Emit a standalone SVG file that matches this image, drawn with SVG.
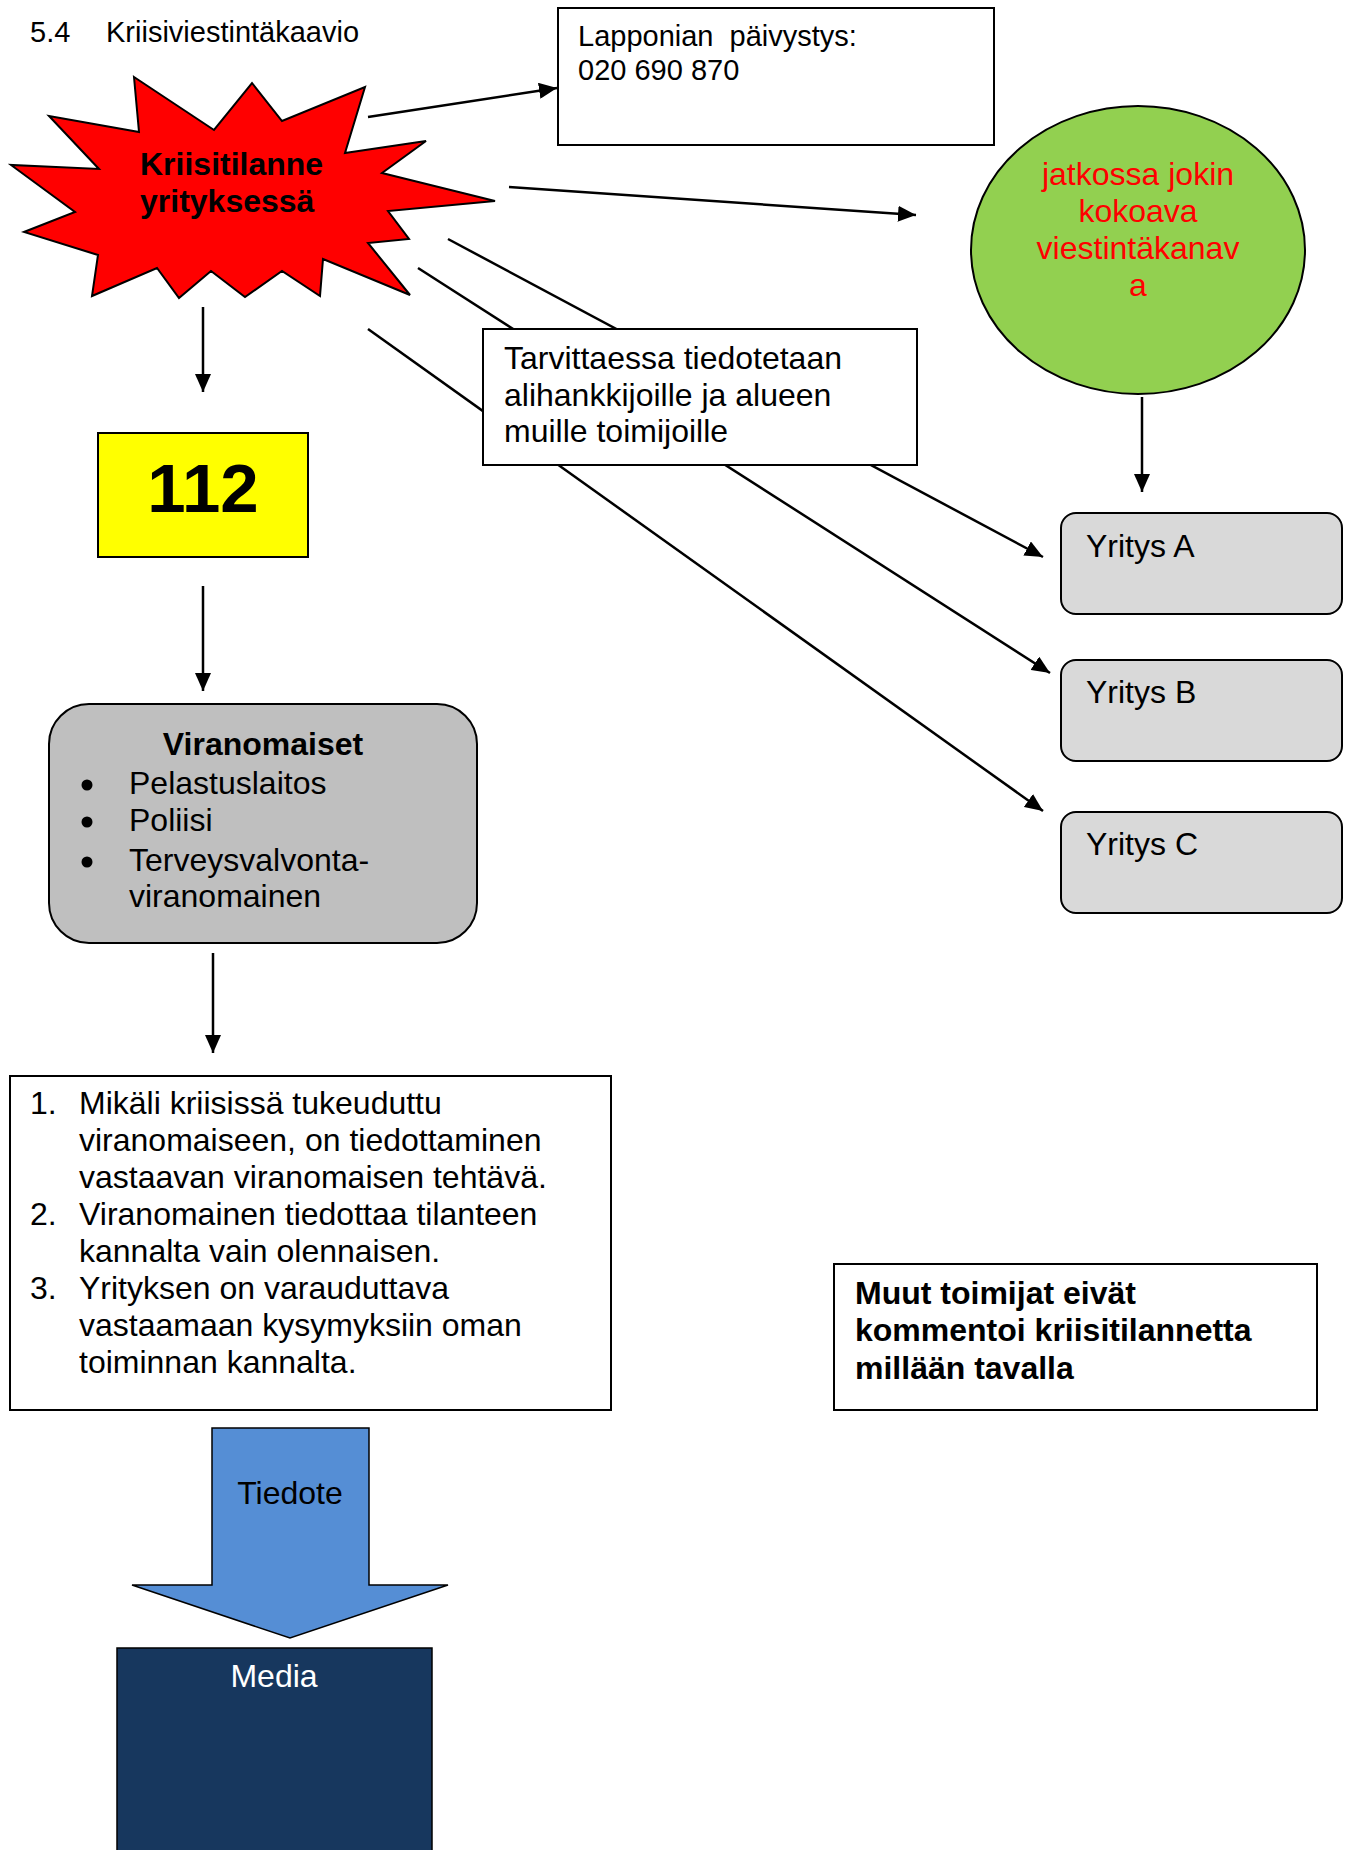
<svg xmlns="http://www.w3.org/2000/svg" width="1347" height="1850" viewBox="0 0 1347 1850">
<style>
text{font-family:"Liberation Sans",Arial,sans-serif;fill:#000}
.t32{font-size:32px}
.b{font-weight:bold}
.box{stroke:#000;stroke-width:2}
.con{stroke:#000;stroke-width:2.5;fill:none}
</style>
<defs>
<marker id="ah" markerUnits="userSpaceOnUse" markerWidth="19" markerHeight="16" refX="18" refY="8" orient="auto">
<path d="M0,0 L18,8 L0,16 z" fill="#000"/>
</marker>
</defs>
<rect width="1347" height="1850" fill="#fff"/>
<g id="title">
<text x="30" y="42" style="font-size:29px">5.4</text>
<text x="106" y="42" style="font-size:29px">Kriisiviestintäkaavio</text>
</g>
<g id="connectors">
<line class="con" x1="368" y1="117" x2="557" y2="88" marker-end="url(#ah)"/>
<line class="con" x1="509" y1="187" x2="916" y2="215" marker-end="url(#ah)"/>
<line class="con" x1="448" y1="239" x2="1043" y2="557" marker-end="url(#ah)"/>
<line class="con" x1="418" y1="268" x2="1050" y2="673" marker-end="url(#ah)"/>
<line class="con" x1="368" y1="329" x2="1043" y2="811" marker-end="url(#ah)"/>
<line class="con" x1="203" y1="307" x2="203" y2="392" marker-end="url(#ah)"/>
<line class="con" x1="203" y1="586" x2="203" y2="691" marker-end="url(#ah)"/>
<line class="con" x1="213" y1="953" x2="213" y2="1053" marker-end="url(#ah)"/>
<line class="con" x1="1142" y1="397" x2="1142" y2="492" marker-end="url(#ah)"/>
</g>
<g id="kriisi">
<polygon class="box" fill="#FF0000" points="134,77 214,130 252,83 282,121 365,87 345,153 426,141 382,173 495,201 388,211 409,239 368,243 410,295 323,259 320,296 282,271 245,297 211,271 179,298 157,268 92,296 98,255 24,232 75,212 11,165 99,169 49,116 139,132"/>
<text class="t32 b" x="140" y="175">Kriisitilanne</text>
<text class="t32 b" x="140" y="212">yrityksessä</text>
</g>
<g id="lapponian">
<rect class="box" x="558" y="8" width="436" height="137" fill="#fff"/>
<text x="578" y="46" style="font-size:29px">Lapponian&#160; päivystys:</text>
<text x="578" y="80" style="font-size:29px">020 690 870</text>
</g>
<g id="kanava">
<ellipse class="box" cx="1138" cy="250" rx="167" ry="144" fill="#92D050"/>
<text class="t32" x="1138" y="185" text-anchor="middle" style="fill:#FF0000">jatkossa jokin</text>
<text class="t32" x="1138" y="222" text-anchor="middle" style="fill:#FF0000">kokoava</text>
<text class="t32" x="1138" y="259" text-anchor="middle" style="fill:#FF0000">viestintäkanav</text>
<text class="t32" x="1138" y="296" text-anchor="middle" style="fill:#FF0000">a</text>
</g>
<g id="tarvittaessa">
<rect class="box" x="483" y="329" width="434" height="136" fill="#fff"/>
<text class="t32" x="504" y="369">Tarvittaessa tiedotetaan</text>
<text class="t32" x="504" y="406">alihankkijoille ja alueen</text>
<text class="t32" x="504" y="442">muille toimijoille</text>
</g>
<g id="n112">
<rect class="box" x="98" y="433" width="210" height="124" fill="#FFFF00"/>
<text x="203" y="512" text-anchor="middle" style="font-size:69px;font-weight:bold">112</text>
</g>
<g id="viranomaiset">
<rect class="box" x="49" y="704" width="428" height="239" rx="40" ry="40" fill="#BFBFBF"/>
<text class="t32 b" x="263" y="755" text-anchor="middle">Viranomaiset</text>
<circle cx="87" cy="785" r="5.5" fill="#000"/>
<circle cx="87" cy="822" r="5.5" fill="#000"/>
<circle cx="87" cy="862" r="5.5" fill="#000"/>
<text class="t32" x="129" y="794">Pelastuslaitos</text>
<text class="t32" x="129" y="831">Poliisi</text>
<text class="t32" x="129" y="871">Terveysvalvonta-</text>
<text class="t32" x="129" y="907">viranomainen</text>
</g>
<g id="yritysA">
<rect class="box" x="1061" y="513" width="281" height="101" rx="15" ry="15" fill="#D9D9D9"/>
<text class="t32" x="1086" y="557">Yritys A</text>
</g>
<g id="yritysB">
<rect class="box" x="1061" y="660" width="281" height="101" rx="15" ry="15" fill="#D9D9D9"/>
<text class="t32" x="1086" y="703">Yritys B</text>
</g>
<g id="yritysC">
<rect class="box" x="1061" y="812" width="281" height="101" rx="15" ry="15" fill="#D9D9D9"/>
<text class="t32" x="1086" y="855">Yritys C</text>
</g>
<g id="ohjeet">
<rect class="box" x="10" y="1076" width="601" height="334" fill="#fff"/>
<text class="t32" x="30" y="1114">1.</text>
<text class="t32" x="79" y="1114">Mikäli kriisissä tukeuduttu</text>
<text class="t32" x="79" y="1151">viranomaiseen, on tiedottaminen</text>
<text class="t32" x="79" y="1188">vastaavan viranomaisen tehtävä.</text>
<text class="t32" x="30" y="1225">2.</text>
<text class="t32" x="79" y="1225">Viranomainen tiedottaa tilanteen</text>
<text class="t32" x="79" y="1262">kannalta vain olennaisen.</text>
<text class="t32" x="30" y="1299">3.</text>
<text class="t32" x="79" y="1299">Yrityksen on varauduttava</text>
<text class="t32" x="79" y="1336">vastaamaan kysymyksiin oman</text>
<text class="t32" x="79" y="1373">toiminnan kannalta.</text>
</g>
<g id="muut">
<rect class="box" x="834" y="1264" width="483" height="146" fill="#fff"/>
<text class="t32 b" x="855" y="1304">Muut toimijat eivät</text>
<text class="t32 b" x="855" y="1341">kommentoi kriisitilannetta</text>
<text class="t32 b" x="855" y="1379">millään tavalla</text>
</g>
<g id="tiedote">
<polygon points="212,1428 369,1428 369,1585 448,1585 290,1638 132,1585 212,1585" fill="#558ED5" stroke="#000" stroke-width="1.5"/>
<text class="t32" x="290" y="1504" text-anchor="middle">Tiedote</text>
</g>
<g id="media">
<rect x="117" y="1648" width="315" height="230" fill="#17375E" stroke="#000" stroke-width="1.5"/>
<text class="t32" x="274" y="1687" text-anchor="middle" style="fill:#fff">Media</text>
</g>
</svg>
